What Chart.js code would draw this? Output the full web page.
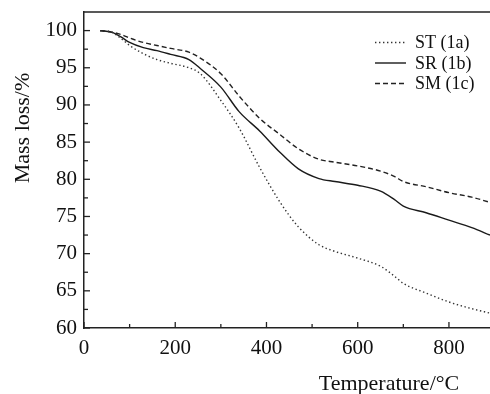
<!DOCTYPE html>
<html>
<head>
<meta charset="utf-8">
<script src="https://cdn.jsdelivr.net/npm/chart.js@4.4.1/dist/chart.umd.min.js"></script>
<style>
  html, body { margin: 0; padding: 0; background: #fff; }
  #wrap { width: 490px; height: 394px; position: relative; }
</style>
</head>
<body>
<div id="wrap"><canvas id="tga-chart"></canvas></div>
<script>
// data (temperature in °C, mass in %)
const temperature = [35, 60, 80, 100, 130, 160, 190, 230, 255, 300, 340, 385, 430, 470, 515, 550, 600, 650, 680, 700, 750, 800, 850, 890];
const massST = [100, 99.8, 99.0, 98.0, 96.9, 96.1, 95.6, 95.0, 94.2, 90.6, 86.9, 81.6, 76.9, 73.6, 71.2, 70.3, 69.4, 68.3, 67.0, 66.0, 64.7, 63.5, 62.6, 62.0];
const massSR = [100, 99.8, 99.2, 98.4, 97.7, 97.3, 96.8, 96.1, 94.9, 92.4, 89.1, 86.5, 83.6, 81.4, 80.1, 79.7, 79.2, 78.4, 77.3, 76.4, 75.5, 74.5, 73.5, 72.5];
const massSM = [100, 99.8, 99.5, 99.0, 98.4, 98.0, 97.6, 97.1, 96.3, 94.2, 91.2, 88.2, 86.0, 84.1, 82.7, 82.3, 81.8, 81.1, 80.4, 79.7, 79.0, 78.2, 77.6, 76.9];
const seriesLabels = ["ST (1a)", "SR (1b)", "SM (1c)"];
const xTickValues = [0, 200, 400, 600, 800];
const xMinorTicks = [100, 300, 500, 700];
const yTickValues = [60, 65, 70, 75, 80, 85, 90, 95, 100];
const yMinorTicks = [62.5, 67.5, 72.5, 77.5, 82.5, 87.5, 92.5, 97.5];

const ink = "#222";
const serif = "'Liberation Serif', 'Times New Roman', serif";

var toPoints = (ys) => temperature.map((t, i) => ({x: t, y: ys[i]}));

// inward ticks, top frame line, axis titles and the legend box
const decorations = {
  id: "decorations",
  afterDraw(chart) {
    const ctx = chart.ctx;
    const area = chart.chartArea;
    const xs = chart.scales.x;
    const ys = chart.scales.y;
    ctx.save();
    ctx.strokeStyle = ink;
    ctx.lineWidth = 1.3;

    // top frame
    ctx.beginPath();
    ctx.moveTo(area.left, area.top);
    ctx.lineTo(area.right, area.top);
    ctx.stroke();

    const tick = (x1, y1, x2, y2) => {
      ctx.beginPath();
      ctx.moveTo(x1, y1);
      ctx.lineTo(x2, y2);
      ctx.stroke();
    };
    xTickValues.forEach(v => { const p = xs.getPixelForValue(v); tick(p, area.bottom, p, area.bottom - 6); });
    xMinorTicks.forEach(v => { const p = xs.getPixelForValue(v); tick(p, area.bottom, p, area.bottom - 4); });
    yTickValues.forEach(v => { const p = ys.getPixelForValue(v); tick(area.left, p, area.left + 6, p); });
    yMinorTicks.forEach(v => { const p = ys.getPixelForValue(v); tick(area.left, p, area.left + 4, p); });

    // axis titles
    ctx.fillStyle = "#111";
    ctx.font = "22px " + serif;
    ctx.textAlign = "center";
    ctx.textBaseline = "alphabetic";
    ctx.fillText("Temperature/°C", 389, 390);
    ctx.save();
    ctx.translate(29, 128);
    ctx.rotate(-Math.PI / 2);
    ctx.fillText("Mass loss/%", 0, 0);
    ctx.restore();

    // legend
    ctx.font = "18px " + serif;
    ctx.textAlign = "left";
    chart.data.datasets.forEach((ds, i) => {
      const base = 48 + i * 20.5;
      ctx.strokeStyle = ds.borderColor;
      ctx.lineWidth = ds.borderWidth;
      ctx.setLineDash(ds.borderDash || []);
      ctx.beginPath();
      ctx.moveTo(375, base - 5.5);
      ctx.lineTo(406, base - 5.5);
      ctx.stroke();
      ctx.setLineDash([]);
      ctx.fillText(ds.label, 415, base);
    });
    ctx.restore();
  }
};

const data = {
  datasets: [
    {
      label: seriesLabels[0],
      data: toPoints(massST),
      borderColor: "#333",
      borderWidth: 1.4,
      borderDash: [1.4, 2.6],
    }, {
      label: seriesLabels[1],
      data: toPoints(massSR),
      borderColor: "#1a1a1a",
      borderWidth: 1.4,
    }, {
      label: seriesLabels[2],
      data: toPoints(massSM),
      borderColor: "#222",
      borderWidth: 1.4,
      borderDash: [5, 3],
    }
  ]
};

const config = {
  type: "line",
  data,
  plugins: [decorations],
  options: {
    responsive: true,
    maintainAspectRatio: false,
    animation: false,
    layout: { padding: { top: 12, right: 0, left: 0, bottom: 0 } },
    elements: {
      point: { radius: 0 },
      line: { cubicInterpolationMode: "monotone", fill: false }
    },
    plugins: {
      legend: { display: false },
      tooltip: { enabled: false }
    },
    scales: {
      x: {
        type: "linear",
        min: 0,
        max: 890,
        grid: { display: false, drawTicks: false },
        border: { display: true, color: ink, width: 1.5 },
        afterBuildTicks: (scale) => { scale.ticks = xTickValues.map(v => ({value: v})); },
        afterFit: (scale) => { scale.height = 66; scale.paddingLeft = 0; scale.paddingRight = 0; },
        ticks: {
          color: "#111",
          padding: 8,
          maxRotation: 0,
          font: { family: serif, size: 21 }
        }
      },
      y: {
        min: 60,
        max: 102.5,
        grid: { display: false, drawTicks: false },
        border: { display: true, color: ink, width: 1.5 },
        afterBuildTicks: (scale) => { scale.ticks = yTickValues.map(v => ({value: v})); },
        afterFit: (scale) => { scale.width = 84; scale.paddingTop = 0; scale.paddingBottom = 0; },
        ticks: {
          color: "#111",
          padding: 7,
          font: { family: serif, size: 21 }
        }
      }
    }
  }
};

var chart = new Chart(document.getElementById("tga-chart").getContext("2d"), config);
</script>
</body>
</html>
